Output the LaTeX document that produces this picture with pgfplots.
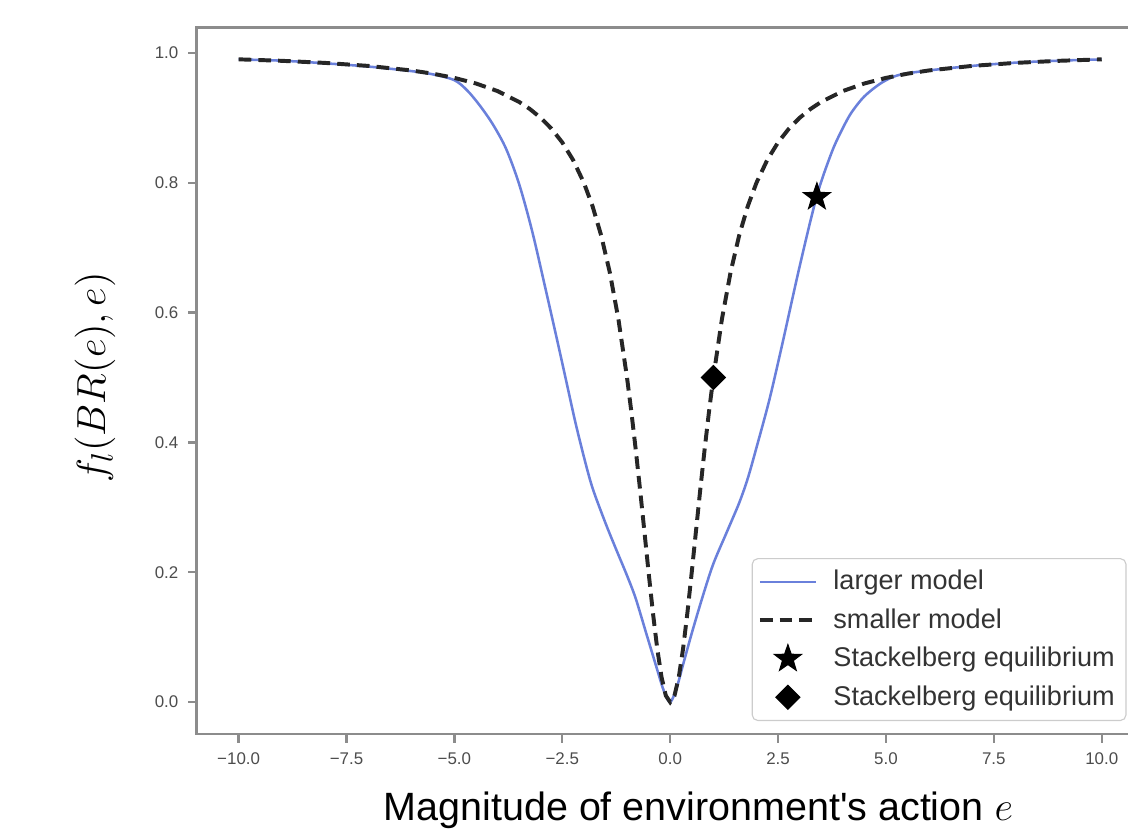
\documentclass[border=0pt]{standalone}
\usepackage{fontspec}
\setmainfont{Liberation Sans}
\usepackage{pgfplots}
\pgfplotsset{compat=1.18}
\definecolor{largeblue}{HTML}{6A80DB}
\definecolor{spine}{HTML}{8C8C8C}

% filled five-pointed star (matplotlib '*')
\pgfdeclareplotmark{fstar}{%
  \pgfpathmoveto{\pgfpointpolar{90}{\pgfplotmarksize}}%
  \pgfpathlineto{\pgfpointpolar{126}{0.40*\pgfplotmarksize}}%
  \pgfpathlineto{\pgfpointpolar{162}{\pgfplotmarksize}}%
  \pgfpathlineto{\pgfpointpolar{198}{0.40*\pgfplotmarksize}}%
  \pgfpathlineto{\pgfpointpolar{234}{\pgfplotmarksize}}%
  \pgfpathlineto{\pgfpointpolar{270}{0.40*\pgfplotmarksize}}%
  \pgfpathlineto{\pgfpointpolar{306}{\pgfplotmarksize}}%
  \pgfpathlineto{\pgfpointpolar{342}{0.40*\pgfplotmarksize}}%
  \pgfpathlineto{\pgfpointpolar{18}{\pgfplotmarksize}}%
  \pgfpathlineto{\pgfpointpolar{54}{0.40*\pgfplotmarksize}}%
  \pgfpathclose
  \pgfusepathqfillstroke}

% legend handles: lines 0.7cm long, single marker centred
\pgfplotsset{
  lineleg/.style={legend image code/.code={\draw[##1] plot coordinates {(0cm,0cm) (0.7cm,0cm)};}},
  markleg/.style={legend image code/.code={\draw[##1] plot coordinates {(0.35cm,0cm)};}},
}

\begin{document}
\begin{tikzpicture}
\begin{axis}[
    name=ax,
    scale only axis,
    width=330.2pt,
    height=250.5pt,
    xmin=-10.97, xmax=10.6,
    ymin=-0.0492, ymax=1.0385,
    axis line style={draw=none},
    clip=false,
    tick pos=left,
    tick align=outside,
    major tick length=3pt,
    tick style={spine, line width=0.8pt},
    xtick={-10,-7.5,-5,-2.5,0,2.5,5,7.5,10},
    xticklabels={−10.0,−7.5,−5.0,−2.5,0.0,2.5,5.0,7.5,10.0},
    ytick={0,0.2,0.4,0.6,0.8,1.0},
    yticklabels={0.0,0.2,0.4,0.6,0.8,1.0},
    ticklabel style={font=\fontsize{6}{7}\selectfont, text=black!70},
    xlabel={Magnitude of environment\textquotesingle s action $e$},
    xlabel style={at={(axis description cs:0.539,-0.123)}, anchor=base, font=\fontsize{14}{16}\selectfont},
    ylabel={$f_l(BR(e),e)$},
    ylabel style={at={(axis description cs:-0.1094,0.505)}, anchor=center, font=\fontsize{15}{17}\selectfont},
    legend cell align=left,
    legend style={at={(axis description cs:0.9989,0.0184)}, anchor=south east,
        draw=black!20, rounded corners=2pt, fill=white,
        font=\fontsize{9.6}{11}\selectfont, text=black!80,
        inner xsep=2pt, inner ysep=2pt, row sep=1.2pt,
        /tikz/every odd column/.append style={column sep=3.5pt}},
]
\draw[spine, line width=1pt] (rel axis cs:1,1) -- (rel axis cs:0,1) -- (rel axis cs:0,0) -- (rel axis cs:1,0);

\addplot[largeblue, line width=0.9pt, smooth, tension=0.5, lineleg] coordinates {
(-10,0.990) (-9,0.988) (-8,0.984) (-7,0.979) (-6,0.972) (-5.5,0.967)
(-5.0,0.958) (-4.7,0.942) (-4.4,0.918) (-4.1,0.889) (-3.8,0.852)
(-3.5,0.798) (-3.2,0.726) (-2.9,0.640) (-2.6,0.552) (-2.4,0.492)
(-2.2,0.432) (-2.0,0.378) (-1.8,0.330) (-1.5,0.276) (-1.25,0.235)
(-1.0,0.195) (-0.8,0.160) (-0.55,0.105) (-0.3,0.050) (-0.15,0.018) (0,0.0)
(0.15,0.022) (0.3,0.058) (0.5,0.106) (0.75,0.162) (1.0,0.213) (1.3,0.260)
(1.6,0.307) (1.8,0.345) (2.0,0.392) (2.3,0.466) (2.6,0.552) (3.0,0.671)
(3.4,0.780) (3.75,0.848) (4.0,0.884) (4.2,0.908) (4.5,0.933) (4.9,0.954)
(5.3,0.966) (6,0.973) (7,0.980) (8,0.985) (9,0.988) (10,0.990)
};
\addlegendentry{larger model}

\addplot[black!85, line width=1.4pt, dash pattern=on 4.5pt off 2.5pt, lineleg] coordinates {
(-10,0.9901) (-9,0.9878) (-8,0.9846) (-7,0.9800) (-6,0.9730) (-5.5,0.9680)
(-5,0.9615) (-4.5,0.9529) (-4,0.9412) (-3.5,0.9245) (-3.25,0.9135) (-3,0.9000)
(-2.75,0.8832) (-2.5,0.8621) (-2.25,0.8351) (-2,0.8000) (-1.8,0.7642)
(-1.6,0.7191) (-1.4,0.6622) (-1.2,0.5902) (-1,0.5000) (-0.9,0.4475)
(-0.8,0.3902) (-0.7,0.3289) (-0.6,0.2647) (-0.5,0.2000) (-0.4,0.1379)
(-0.3,0.0826) (-0.2,0.0385) (-0.1,0.0099) (0,0)
(0.1,0.0099) (0.2,0.0385) (0.3,0.0826) (0.4,0.1379) (0.5,0.2000)
(0.6,0.2647) (0.7,0.3289) (0.8,0.3902) (0.9,0.4475) (1,0.5000)
(1.2,0.5902) (1.4,0.6622) (1.6,0.7191) (1.8,0.7642) (2,0.8000)
(2.25,0.8351) (2.5,0.8621) (2.75,0.8832) (3,0.9000) (3.25,0.9135)
(3.5,0.9245) (4,0.9412) (4.5,0.9529) (5,0.9615) (5.5,0.9680) (6,0.9730)
(7,0.9800) (8,0.9846) (9,0.9878) (10,0.9901)
};
\addlegendentry{smaller model}

\addplot[only marks, mark=fstar, mark size=5pt, mark options={draw=black, fill=black, line width=0.4pt}, markleg]
    coordinates {(3.4,0.778)};
\addlegendentry{Stackelberg equilibrium}

\addplot[only marks, mark=square*, mark size=3pt, mark options={rotate=45, draw=black, fill=black}, markleg]
    coordinates {(1.0,0.5)};
\addlegendentry{Stackelberg equilibrium}
\end{axis}
\path ([xshift=-69.8pt,yshift=-34.0pt]ax.south west) rectangle ([yshift=9.9pt]ax.north east);
\end{tikzpicture}
\end{document}
